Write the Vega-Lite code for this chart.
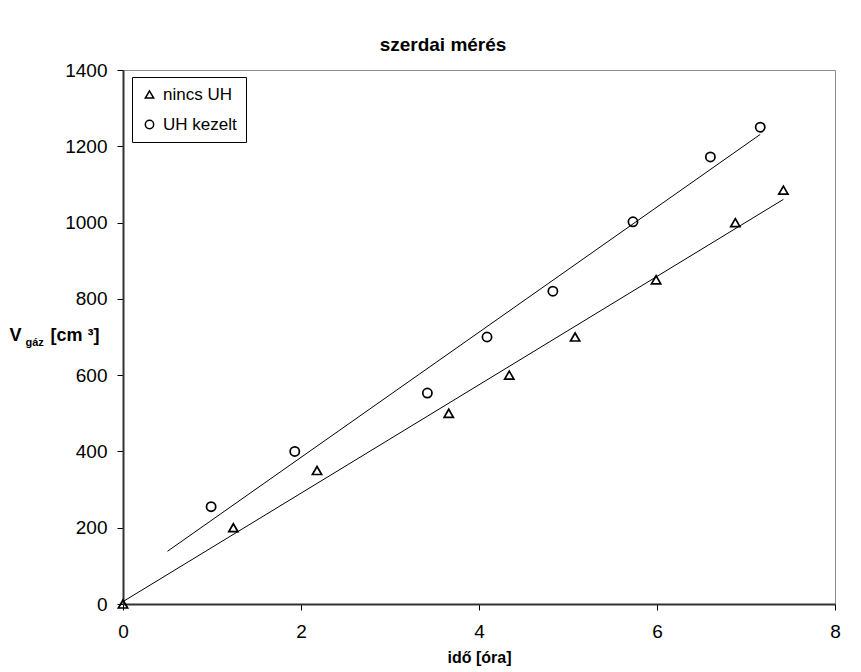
{
  "$schema": "https://vega.github.io/schema/vega-lite/v6.json",
  "width": 712,
  "height": 534,
  "autosize": "none",
  "padding": {"left": 123, "top": 70, "right": 26, "bottom": 68},
  "background": "white",
  "title": {
    "text": "szerdai mérés",
    "font": "Liberation Sans",
    "fontSize": 19,
    "fontWeight": "bold",
    "color": "black",
    "anchor": "middle",
    "dx": -36,
    "offset": 6
  },
  "config": {
    "font": "Liberation Sans",
    "view": {"stroke": "#8c8c8c", "strokeWidth": 1},
    "axis": {
      "grid": false,
      "domainColor": "#333333",
      "domainWidth": 2,
      "tickColor": "black",
      "tickSize": 6,
      "labelFont": "Liberation Sans",
      "labelFontSize": 19,
      "labelColor": "black",
      "labelFlush": false,
      "format": "d",
      "titleFont": "Liberation Sans",
      "titleFontWeight": "bold",
      "titleColor": "black"
    }
  },
  "data": {
    "values": [
      {"series": "nincs UH", "t": 0.0, "v": 0},
      {"series": "nincs UH", "t": 1.24, "v": 200},
      {"series": "nincs UH", "t": 2.18, "v": 350},
      {"series": "nincs UH", "t": 3.66, "v": 500},
      {"series": "nincs UH", "t": 4.34, "v": 600},
      {"series": "nincs UH", "t": 5.08, "v": 700},
      {"series": "nincs UH", "t": 5.99, "v": 850},
      {"series": "nincs UH", "t": 6.88, "v": 1000},
      {"series": "nincs UH", "t": 7.42, "v": 1085},
      {"series": "UH kezelt", "t": 0.99, "v": 255},
      {"series": "UH kezelt", "t": 1.93, "v": 400},
      {"series": "UH kezelt", "t": 3.42, "v": 553},
      {"series": "UH kezelt", "t": 4.09, "v": 700},
      {"series": "UH kezelt", "t": 4.83, "v": 820},
      {"series": "UH kezelt", "t": 5.73, "v": 1002},
      {"series": "UH kezelt", "t": 6.6, "v": 1172},
      {"series": "UH kezelt", "t": 7.16, "v": 1250}
    ]
  },
  "resolve": {"axis": {"y": "independent"}},
  "layer": [
    {
      "mark": {"type": "point", "filled": false, "stroke": "black", "strokeWidth": 1.7, "size": 85, "opacity": 1},
      "encoding": {
        "x": {
          "field": "t", "type": "quantitative",
          "scale": {"domain": [0, 8], "nice": false},
          "axis": {"values": [0, 2, 4, 6, 8], "title": "idő [óra]", "titleFontSize": 16, "labelPadding": 12, "titlePadding": 8}
        },
        "y": {
          "field": "v", "type": "quantitative",
          "scale": {"domain": [0, 1400], "nice": false},
          "axis": {
            "orient": "left",
            "values": [0, 200, 400, 600, 800, 1000, 1200, 1400],
            "labelPadding": 10,
            "title": "V",
            "titleFontSize": 18,
            "titleAngle": 0,
            "titleAlign": "left",
            "titleBaseline": "alphabetic",
            "titleX": -114,
            "titleY": 270
          }
        },
        "shape": {
          "field": "series", "type": "nominal",
          "scale": {"domain": ["nincs UH", "UH kezelt"], "range": ["triangle-up", "circle"]},
          "legend": {
            "title": null,
            "orient": "none",
            "legendX": 9,
            "legendY": 7,
            "padding": 9,
            "rowPadding": 12,
            "strokeColor": "black",
            "fillColor": "white",
            "labelFont": "Liberation Sans",
            "labelFontSize": 17,
            "labelColor": "black",
            "labelOffset": 5,
            "symbolSize": 70,
            "symbolStrokeColor": "black",
            "symbolStrokeWidth": 1.5,
            "symbolFillColor": "transparent"
          }
        }
      }
    },
    {
      "transform": [
        {"filter": "datum.series === 'nincs UH'"},
        {"regression": "v", "on": "t", "extent": [0, 7.42]}
      ],
      "mark": {"type": "line", "color": "black", "strokeWidth": 1},
      "encoding": {
        "x": {"field": "t", "type": "quantitative", "title": "idő [óra]"},
        "y": {
          "field": "v", "type": "quantitative",
          "axis": {
            "orient": "left",
            "domain": false, "ticks": false, "labels": false,
            "title": "gáz",
            "titleFontSize": 11,
            "titleAngle": 0,
            "titleAlign": "left",
            "titleBaseline": "alphabetic",
            "titleX": -98,
            "titleY": 275
          }
        }
      }
    },
    {
      "transform": [
        {"filter": "datum.series === 'UH kezelt'"},
        {"regression": "v", "on": "t", "extent": [0.5, 7.16]}
      ],
      "mark": {"type": "line", "color": "black", "strokeWidth": 1},
      "encoding": {
        "x": {"field": "t", "type": "quantitative", "title": "idő [óra]"},
        "y": {
          "field": "v", "type": "quantitative",
          "axis": {
            "orient": "left",
            "domain": false, "ticks": false, "labels": false,
            "title": "[cm ³]",
            "titleFontSize": 18,
            "titleAngle": 0,
            "titleAlign": "left",
            "titleBaseline": "alphabetic",
            "titleX": -73,
            "titleY": 270
          }
        }
      }
    }
  ]
}
